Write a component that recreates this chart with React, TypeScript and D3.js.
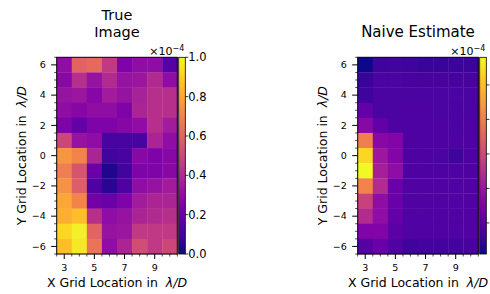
import React from 'react';
import * as d3 from 'd3';

// grid coordinates (lambda/D)
const xCols = [3, 4, 5, 6, 7, 8, 9, 10];
const yRows = [6, 5, 4, 3, 2, 1, 0, -1, -2, -3, -4, -5, -6];
const xTicks = [3, 5, 7, 9];
const yTicks = [6, 4, 2, 0, -2, -4, -6];

// values in units of 1e-4, one row per y (top to bottom)
const trueImage = [
  [0.30, 0.60, 0.62, 0.45, 0.25, 0.30, 0.30, 0.15],
  [0.28, 0.42, 0.32, 0.40, 0.32, 0.33, 0.40, 0.30],
  [0.32, 0.33, 0.27, 0.35, 0.32, 0.37, 0.42, 0.42],
  [0.30, 0.27, 0.30, 0.30, 0.25, 0.38, 0.42, 0.42],
  [0.25, 0.18, 0.25, 0.25, 0.27, 0.30, 0.42, 0.35],
  [0.50, 0.32, 0.30, 0.12, 0.12, 0.12, 0.38, 0.30],
  [0.75, 0.70, 0.38, 0.10, 0.12, 0.28, 0.25, 0.28],
  [0.68, 0.55, 0.20, 0.03, 0.10, 0.25, 0.25, 0.28],
  [0.74, 0.58, 0.13, 0.05, 0.13, 0.30, 0.32, 0.35],
  [0.80, 0.70, 0.22, 0.20, 0.25, 0.35, 0.38, 0.38],
  [0.82, 0.86, 0.42, 0.30, 0.32, 0.38, 0.40, 0.42],
  [0.92, 0.98, 0.60, 0.32, 0.33, 0.45, 0.45, 0.45],
  [0.86, 0.96, 0.65, 0.30, 0.38, 0.52, 0.45, 0.50],
];

const naiveEstimate = [
  [0.02, 0.13, 0.14, 0.13, 0.11, 0.11, 0.12, 0.12],
  [0.11, 0.16, 0.16, 0.15, 0.15, 0.15, 0.15, 0.15],
  [0.13, 0.16, 0.16, 0.16, 0.16, 0.16, 0.16, 0.16],
  [0.23, 0.16, 0.16, 0.17, 0.17, 0.16, 0.16, 0.16],
  [0.34, 0.23, 0.17, 0.17, 0.17, 0.17, 0.16, 0.17],
  [0.80, 0.34, 0.32, 0.17, 0.17, 0.17, 0.17, 0.17],
  [1.07, 0.40, 0.32, 0.17, 0.17, 0.16, 0.13, 0.17],
  [1.16, 0.43, 0.36, 0.17, 0.17, 0.17, 0.17, 0.17],
  [0.82, 0.48, 0.25, 0.18, 0.18, 0.18, 0.18, 0.18],
  [0.57, 0.36, 0.25, 0.18, 0.18, 0.18, 0.18, 0.18],
  [0.48, 0.36, 0.23, 0.18, 0.18, 0.18, 0.18, 0.18],
  [0.31, 0.31, 0.21, 0.18, 0.18, 0.18, 0.18, 0.18],
  [0.19, 0.25, 0.18, 0.13, 0.14, 0.14, 0.14, 0.15],
];

const trueRange = [0, 1.0];
const trueCbTicks = [0, 0.2, 0.4, 0.6, 0.8, 1.0];
const naiveRange = [0.02, 1.16];
const naiveCbTicks = [0.2, 0.4, 0.6, 0.8, 1.0];

const FONT = 'DejaVu Sans, sans-serif';

type PanelProps = {
  id: string;
  left: number;
  titleLines: string[];
  values: number[][];
  range: number[];
  cbTicks: number[];
  cbLabels: boolean;
};

const Panel = ({ id, left, titleLines, values, range, cbTicks, cbLabels }: PanelProps) => {
  const top = 57.3;
  const bottom = 254;
  const width = 120.6;
  const right = left + width;

  const x = d3.scaleLinear().domain([2.5, 10.5]).range([left, right]);
  const y = d3.scaleLinear().domain([6.5, -6.5]).range([top, bottom]);
  const color = d3.scaleSequential(d3.interpolatePlasma).domain(range as [number, number]);

  const cbLeft = right + 1.4;
  const cbWidth = 6.6;
  const cbY = d3.scaleLinear().domain(range).range([bottom, top]);

  const minorX = d3.range(2.5, 10.51, 0.5).filter(v => v % 2 !== 1);
  const minorY = d3.range(-6.5, 6.51, 0.5).filter(v => v % 2 !== 0);
  const cx = (left + right) / 2;
  const cy = (top + bottom) / 2;

  return (
    <g>
      <defs>
        <linearGradient id={`grad-${id}`} x1="0" y1="1" x2="0" y2="0">
          {d3.range(0, 1.001, 0.05).map(t => (
            <stop key={t} offset={t} stopColor={d3.interpolatePlasma(t)} />
          ))}
        </linearGradient>
      </defs>
      {titleLines.map((t, i) => (
        <text key={t} x={cx} y={titleLines.length === 1 ? 37.3 : 20 + i * 17}
          textAnchor="middle" fontSize={titleLines.length === 1 ? 15 : 14.5} fontFamily={FONT} fill="#000">{t}</text>
      ))}
      {values.map((row, r) =>
        row.map((v, c) => (
          <rect key={`${r}-${c}`}
            x={x(xCols[c] - 0.5)} y={y(yRows[r] + 0.5)}
            width={x(xCols[c] + 0.5) - x(xCols[c] - 0.5) + 0.3}
            height={y(yRows[r] - 0.5) - y(yRows[r] + 0.5) + 0.3}
            fill={color(v)} />
        ))
      )}
      <rect x={left} y={top} width={width} height={bottom - top} fill="none" stroke="#000" strokeWidth={1} />
      {/* x ticks */}
      {minorX.map(v => (
        <line key={`mx${v}`} x1={x(v)} x2={x(v)} y1={bottom} y2={bottom + 2.5} stroke="#000" strokeWidth={0.7} />
      ))}
      {xTicks.map(v => (
        <g key={`x${v}`}>
          <line x1={x(v)} x2={x(v)} y1={bottom} y2={bottom + 5} stroke="#000" strokeWidth={1} />
          <text x={x(v)} y={271} textAnchor="middle" fontSize={9.5} fontFamily={FONT}>{v}</text>
        </g>
      ))}
      {/* y ticks */}
      {minorY.map(v => (
        <line key={`my${v}`} x1={left - 2.5} x2={left} y1={y(v)} y2={y(v)} stroke="#000" strokeWidth={0.7} />
      ))}
      {yTicks.map(v => (
        <g key={`y${v}`}>
          <line x1={left - 5.5} x2={left} y1={y(v)} y2={y(v)} stroke="#000" strokeWidth={1} />
          <text x={left - 11} y={y(v) + 3.3} textAnchor="end" fontSize={9.5} fontFamily={FONT}>
            {v < 0 ? `\u2212${-v}` : v}
          </text>
        </g>
      ))}
      <text x={cx} y={286.7} textAnchor="middle" fontSize={12.5} fontFamily={FONT}>
        X Grid Location in{'\u00a0\u00a0'}<tspan fontStyle="italic">λ/D</tspan>
      </text>
      <text transform={`translate(${left - 31},${cy}) rotate(-90)`} textAnchor="middle" fontSize={12.5} fontFamily={FONT}>
        Y Grid Location in{'\u00a0\u00a0'}<tspan fontStyle="italic">λ/D</tspan>
      </text>
      {/* colorbar */}
      <rect x={cbLeft} y={top} width={cbWidth} height={bottom - top} fill={`url(#grad-${id})`} stroke="#000" strokeWidth={0.8} />
      {cbTicks.map(v => (
        <g key={`cb${v}`}>
          <line x1={cbLeft + cbWidth} x2={cbLeft + cbWidth + 3} y1={cbY(v)} y2={cbY(v)} stroke="#000" strokeWidth={0.8} />
          {cbLabels && (
            <text x={cbLeft + cbWidth + 3} y={cbY(v) + 4} fontSize={11.5} fontFamily={FONT}>{v.toFixed(1)}</text>
          )}
        </g>
      ))}
      <text x={cbLeft + cbWidth - 1} y={55} textAnchor="end" fontSize={11} fontFamily={FONT}>
        ×10<tspan dy={-4} fontSize={8}>−4</tspan>
      </text>
    </g>
  );
};

export default function App() {
  return (
    <svg width={490} height={294} style={{ position: 'absolute', left: 0, top: 0, background: '#fff' }}>
      <Panel id="true" left={56.7} titleLines={['True', 'Image']} values={trueImage}
        range={trueRange} cbTicks={trueCbTicks} cbLabels={true} />
      <Panel id="naive" left={357.7} titleLines={['Naive Estimate']} values={naiveEstimate}
        range={naiveRange} cbTicks={naiveCbTicks} cbLabels={false} />
    </svg>
  );
}
